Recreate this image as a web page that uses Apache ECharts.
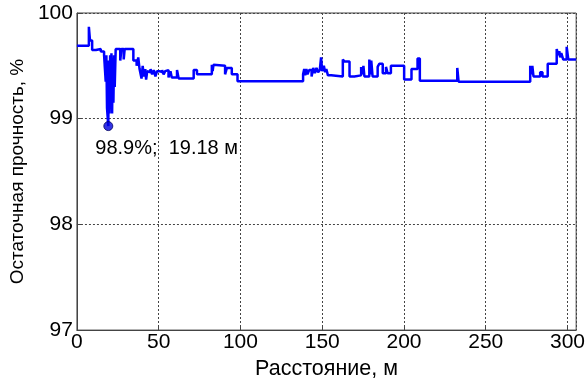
<!DOCTYPE html>
<html>
<head>
<meta charset="utf-8">
<script src="https://cdn.jsdelivr.net/npm/echarts@6/dist/echarts.min.js"></script>
<style>html,body{margin:0;padding:0;background:#fff;}#c{width:588px;height:385px;}</style>
</head>
<body>
<div id="c"></div>
<script>
// Distance (m) at which each step begins
var distance = [0, 7.3, 8.0, 9.3, 11.6, 12.6, 14.6, 16.6, 17.6, 18.0, 18.4, 19.18, 19.5, 19.9, 20.3, 20.7, 21.1, 21.5, 21.9, 22.3, 22.7, 23.1,
  23.7, 26.5, 27.2, 28.6, 29.2, 34.5, 36.5, 37.5, 38.3, 39.5, 40.2, 41.0, 41.8, 42.3, 43.0, 44.0, 45.0, 46.0, 47.0, 48.0, 49.0, 50.5,
  52.1, 53.0, 54.0, 55.2, 56.0, 57.2, 58.0, 61.2, 62.2, 71.4, 73.4, 82.5, 83.0, 83.5, 84.5, 90.6, 91.7, 94.7, 98.2,
  138.3, 139.0, 139.6, 140.3, 141.0, 142.0, 143.5, 144.5, 145.5, 146.5, 147.5, 148.5, 149.3, 150.0, 151.0, 151.8, 152.5, 153.5,
  155.5, 162.6, 163.6, 166.7, 169.7, 173.8, 174.5, 175.2, 175.8, 178.8, 179.5, 180.0, 180.8, 183.9, 184.9, 187.0, 189.0, 190.0,
  192.0, 200.1, 204.6, 208.3, 209.7, 232.6, 233.4, 277.2, 277.8, 278.5, 279.2, 283.3, 284.7, 287.9, 293.4, 294.3, 295.0, 295.5,
  296.2, 297.4, 299.5, 300.5, 305.3];
// Residual strength (%) for each step
var strength = [99.69, 99.87, 99.74, 99.65, 99.635, 99.66, 99.635, 99.60, 99.35, 99.60, 99.10, 98.93, 99.55, 99.05, 99.60, 99.20, 99.62, 99.05, 99.55, 99.15, 99.60, 99.30,
  99.66, 99.55, 99.66, 99.56, 99.66, 99.55, 99.50, 99.58, 99.47, 99.38, 99.50, 99.40, 99.47, 99.37, 99.45, 99.44, 99.47, 99.42, 99.46, 99.40, 99.45, 99.44,
  99.46, 99.42, 99.45, 99.46, 99.39, 99.45, 99.39, 99.46, 99.38, 99.46, 99.42, 99.51, 99.45, 99.51, 99.50, 99.42, 99.48, 99.42, 99.355,
  99.42, 99.47, 99.41, 99.47, 99.42, 99.46, 99.40, 99.48, 99.43, 99.48, 99.44, 99.46, 99.58, 99.45, 99.50, 99.44, 99.47, 99.41,
  99.40, 99.56, 99.54, 99.40, 99.41, 99.49, 99.42, 99.50, 99.40, 99.56, 99.42, 99.55, 99.40, 99.49, 99.52, 99.43, 99.49, 99.43,
  99.50, 99.37, 99.47, 99.57, 99.36, 99.48, 99.35, 99.50, 99.42, 99.50, 99.40, 99.44, 99.40, 99.52, 99.66, 99.60, 99.64, 99.58,
  99.62, 99.56, 99.68, 99.56, 99.56];
// Marked minimum
var minPoint = [19.18, 98.93];
var minLabel = '98.9%;  19.18 м';
var xTicks = [0, 50, 100, 150, 200, 250, 300];
var yTicks = [97, 98, 99, 100];

var lineData = distance.map(function (d, i) { return [d, strength[i]]; });
var FONT = 'Liberation Sans, Arial, sans-serif';
var chart = echarts.init(document.getElementById('c'), null, {renderer: 'canvas'});
chart.setOption({
  animation: false,
  backgroundColor: '#fff',
  grid: {left: 76, right: 10, top: 13, bottom: 49, show: true, borderColor: '#444', borderWidth: 1, backgroundColor: 'transparent'},
  xAxis: {
    type: 'value', min: 0, max: 305.3, interval: 50,
    name: 'Расстояние, м', nameLocation: 'middle', nameGap: 22,
    nameTextStyle: {fontFamily: FONT, fontSize: 21.5, color: '#000'},
    axisLine: {lineStyle: {color: '#444'}},
    axisTick: {inside: true, length: 5, lineStyle: {color: '#444'}},
    axisLabel: {fontFamily: FONT, fontSize: 21, color: '#000', margin: 2, showMaxLabel: false,
      formatter: function (v) { return xTicks.indexOf(v) >= 0 ? String(v) : ''; }},
    splitLine: {show: true, lineStyle: {color: '#444', type: [2, 2], width: 1}}
  },
  yAxis: {
    type: 'value', min: 97, max: 100, interval: 1,
    name: 'Остаточная прочность, %', nameLocation: 'middle', nameGap: 49, nameRotate: 90,
    nameTextStyle: {fontFamily: FONT, fontSize: 19, color: '#000'},
    axisLine: {show: true, lineStyle: {color: '#444'}},
    axisTick: {inside: true, length: 5, lineStyle: {color: '#444'}},
    axisLabel: {fontFamily: FONT, fontSize: 21, color: '#000', margin: 4,
      formatter: function (v) { return yTicks.indexOf(v) >= 0 ? String(v) : ''; }},
    splitLine: {show: true, lineStyle: {color: '#444', type: [2, 2], width: 1}}
  },
  series: [
    {
      type: 'line', data: lineData, step: 'end', showSymbol: false,
      lineStyle: {color: '#0000ff', width: 2.5}, z: 3
    },
    {
      type: 'scatter', data: [minPoint], symbol: 'circle', symbolSize: 9,
      itemStyle: {color: '#0000dd', borderColor: '#000060', borderWidth: 1}, z: 4,
      label: {show: true, formatter: minLabel, position: [-8, 17], fontFamily: FONT, fontSize: 20,
        color: '#000', textBorderWidth: 0, opacity: 1}
    }
  ]
});
</script>
</body>
</html>
